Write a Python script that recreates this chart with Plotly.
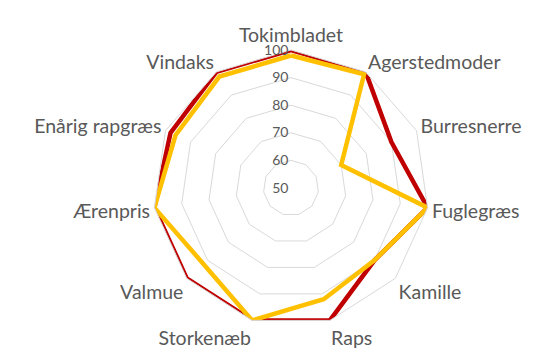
import plotly.graph_objects as go

categories = ["Tokimbladet", "Agerstedmoder", "Burresnerre", "Fuglegræs", "Kamille",
              "Raps", "Storkenæb", "Valmue", "Ærenpris", "Enårig rapgræs", "Vindaks"]
serie_rod = [100, 100, 90, 100, 90, 100, 100, 100, 100, 98, 100]
serie_gul = [98, 99, 70, 100, 90, 92, 100, 92, 100, 96, 98]
radial_ticks = [50, 60, 70, 80, 90, 100]

fig = go.Figure()
fig.add_trace(go.Scatterpolar(r=serie_rod + serie_rod[:1], theta=categories + categories[:1],
                              mode="lines", name="Serie 1",
                              line=dict(color="#C00000", width=4.5)))
fig.add_trace(go.Scatterpolar(r=serie_gul + serie_gul[:1], theta=categories + categories[:1],
                              mode="lines", name="Serie 2",
                              line=dict(color="#FFC000", width=4.5)))

W, H = 546, 360
cx, cy, R = 283, 180, 138
fig.update_layout(
    width=W, height=H,
    margin=dict(l=0, r=0, t=0, b=0, autoexpand=False),
    paper_bgcolor="white",
    showlegend=False,
    font=dict(family="Lato, Noto Sans, sans-serif", color="#595959"),
    polar=dict(
        domain=dict(x=[(cx - R) / W, (cx + R) / W], y=[(H - cy - R) / H, (H - cy + R) / H]),
        bgcolor="white",
        gridshape="linear",
        angularaxis=dict(direction="clockwise", rotation=90, showgrid=False,
                         showline=True, linecolor="#D9D9D9", linewidth=1,
                         ticks="", tickfont=dict(size=19.5, color="#595959")),
        radialaxis=dict(range=[50, 100], tickvals=radial_ticks, angle=90,
                        showline=False, ticks="", showgrid=True, gridcolor="#D9D9D9",
                        gridwidth=1, tickangle=90, side="counterclockwise",
                        tickfont=dict(size=14, color="#595959")),
    ),
)
fig.write_html("out.html")
